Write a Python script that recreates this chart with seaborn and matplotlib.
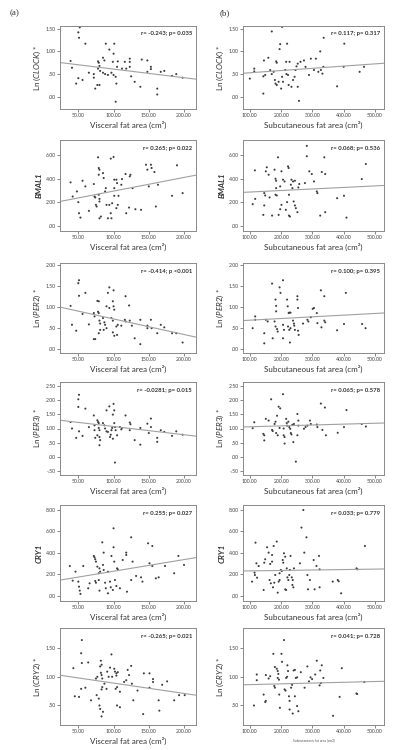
import matplotlib
matplotlib.use('Agg')
import matplotlib.pyplot as plt
import seaborn as sns
import pandas as pd

# ---- data (left: visceral, right: subcutaneous) ----
clock_vis_x = [52, 50, 51, 60, 39, 41, 47, 50, 56, 65, 72, 72, 74, 77, 80, 78, 79, 80, 78, 81, 85, 87, 89, 94, 85, 88, 92, 99, 100, 101,
               97, 100, 103, 104, 103, 106, 105, 112, 116, 123, 123, 123, 118, 125, 130, 138, 140, 148, 148, 153, 153, 162, 162, 167, 172, 183, 189, 198]
clock_vis_y = [1.53, 1.42, 1.30, 1.17, 0.79, 0.64, 0.29, 0.41, 0.37, 0.53, 0.50, 0.42, 0.18, 0.26, 0.26, 0.78, 0.75, 0.68, 0.62, 0.57, 0.86, 0.80, 1.17, 1.04, 0.53, 0.50, 0.48, 0.77, 0.95, 1.17,
               0.53, 0.48, 0.44, 0.29, -0.11, 0.78, 0.66, 0.62, 0.77, 0.84, 0.77, 0.66, 0.62, 0.45, 0.33, 0.22, 0.82, 0.80, 0.55, 0.66, 0.61, 0.18, 0.05, 0.55, 0.57, 0.46, 0.50, 0.42]
clock_sub_x = [203, 170, 197, 195, 219, 159, 145, 114, 114, 100, 143, 149, 165, 170, 176, 184, 186, 180, 182, 186, 192, 200, 203, 206, 213, 217, 222, 216, 227,
               224, 233, 238, 243, 246, 249, 253, 253, 257, 262, 273, 278, 295, 289, 305, 311, 319, 325, 327, 336, 335, 332, 143, 379, 400, 402, 451, 465]
clock_sub_y = [1.54, 1.44, 1.16, 1.05, 1.17, 0.86, 0.80, 0.62, 0.56, 0.40, 0.45, 0.48, 0.59, 0.50, 0.55, 0.78, 0.75, 0.37, 0.29, 0.26, 0.33, 0.18, 0.44, 0.33, 0.59, 0.50, 0.48, 0.77, 0.77,
               0.26, 0.22, 0.37, 0.44, 0.59, 0.67, 0.73, 0.22, -0.09, 0.77, 0.80, 0.66, 0.84, 0.48, 0.59, 0.84, 0.55, 1.00, 0.59, 1.30, 0.66, 0.51, 0.07, 0.23, 0.66, 1.17, 0.55, 0.66]

bmal1_vis_x = [39, 42, 48, 50, 51, 53, 56, 60, 65, 72, 73, 74, 75, 76, 78, 79, 80, 79, 79, 80, 80, 80, 82, 85, 86, 88, 89, 90, 92, 94, 96, 97,
               96, 100, 98, 101, 101, 101, 104, 105, 104, 106, 107, 111, 112, 117, 118, 123, 124, 122, 127, 131, 139, 146, 148, 153, 154, 150, 158, 163, 160, 183, 190, 198]
bmal1_vis_y = [3.70, 2.50, 2.93, 2.02, 1.08, 0.71, 3.84, 3.36, 1.28, 3.56, 2.50, 2.42, 1.79, 1.65, 5.83, 4.92, 4.78, 4.35, 2.65, 2.30, 2.08, 0.65, 0.80, 4.49, 4.07, 2.93, 3.21, 1.79, 0.65, 1.79, 1.08, 0.65,
               5.72, 5.86, 1.93, 2.56, 3.21, 3.93, 3.93, 3.64, 1.51, 1.79, 2.56, 3.50, 3.98, 4.41, 1.08, 4.21, 4.35, 1.56, 3.21, 1.42, 1.37, 5.20, 4.78, 5.20, 4.92, 3.36, 4.58, 3.50, 1.65, 2.56, 5.15, 2.79]
bmal1_sub_x = [109, 117, 116, 143, 146, 146, 149, 151, 154, 160, 163, 171, 179, 182, 184, 184, 182, 186, 190, 192, 197, 201, 201, 197, 206, 211, 215, 219, 222, 224, 225,
               225, 228, 231, 233, 236, 238, 244, 240, 244, 247, 252, 255, 258, 276, 282, 282, 290, 298, 305, 314, 316, 325, 330, 338, 341, 341, 379, 401, 409, 458, 471]
bmal1_sub_y = [1.85, 2.30, 4.72, 0.94, 1.74, 2.79, 2.59, 4.64, 4.98, 4.35, 2.42, 0.88, 4.78, 4.01, 3.84, 3.21, 2.65, 2.59, 5.83, 0.94, 1.42, 1.79, 4.64, 3.36, 3.93, 3.78, 1.37, 2.02, 5.06, 4.92, 2.65,
               0.88, 0.80, 3.50, 3.93, 3.21, 3.78, 3.84, 2.08, 1.74, 1.51, 1.17, 3.27, 3.56, 3.64, 6.80, 5.92, 4.64, 4.41, 3.78, 2.93, 2.79, 0.88, 4.58, 5.83, 4.41, 1.17, 2.36, 2.56, 0.71, 3.98, 5.26]

per2_vis_x = [39, 41, 47, 50, 51, 51, 56, 60, 65, 72, 73, 72, 74, 77, 79, 78, 79, 80, 81, 81, 79, 85, 87, 88, 90, 86, 90, 92, 94, 94, 97,
              99, 99, 100, 100, 101, 99, 101, 104, 106, 105, 111, 116, 117, 117, 122, 123, 126, 130, 138, 138, 148, 148, 153, 154, 162, 167, 172, 183, 189, 198]
per2_vis_y = [1.02, 0.57, 0.43, 1.56, 1.63, 1.26, 0.83, 1.33, 0.58, 0.85, 0.77, 0.23, 0.23, 1.14, 1.13, 0.88, 0.85, 0.67, 0.60, 0.45, 0.37, 0.73, 0.63, 0.57, 0.49, 0.45, 1.01, 1.33, 1.46, 0.97, 0.73,
              0.67, 1.13, 1.39, 1.01, 0.93, 0.39, 0.31, 0.53, 0.57, 0.33, 0.55, 0.69, 0.65, 1.25, 1.03, 0.67, 0.55, 0.25, 0.69, 0.11, 0.55, 0.49, 0.69, 0.49, 0.37, 0.57, 0.51, 0.37, 0.37, 0.15]
per2_sub_x = [109, 117, 117, 146, 146, 151, 157, 171, 173, 179, 182, 182, 184, 184, 187, 189, 195, 198, 206, 206, 206, 209, 219, 221, 224, 226, 230, 222, 226,
              230, 228, 238, 241, 242, 244, 252, 252, 254, 254, 256, 270, 284, 287, 295, 301, 305, 314, 316, 327, 329, 338, 338, 341, 379, 401, 407, 459, 470]
per2_sub_y = [0.49, 0.77, 0.69, 0.13, 0.37, 0.69, 0.65, 1.55, 0.25, 0.65, 0.53, 1.17, 1.02, 0.89, 0.47, 0.41, 1.46, 1.33, 0.25, 1.63, 0.57, 0.45, 1.17, 1.01, 0.85, 0.86, 0.86, 0.53, 0.45,
              0.49, 0.15, 0.67, 0.60, 0.55, 0.45, 1.25, 1.17, 0.97, 0.43, 0.33, 0.60, 0.69, 0.65, 0.75, 0.95, 0.97, 0.85, 0.61, 1.39, 0.51, 1.25, 0.67, 0.63, 0.44, 0.59, 1.33, 0.59, 0.49]

per3_vis_x = [39, 41, 47, 50, 51, 50, 51, 56, 60, 65, 72, 73, 73, 74, 77, 78, 79, 77, 79, 80, 80, 81, 80, 85, 87, 88, 90, 90, 92, 94, 95, 96,
              97, 98, 99, 100, 101, 99, 101, 102, 103, 102, 105, 109, 111, 112, 117, 123, 124, 123, 130, 138, 138, 148, 150, 153, 153, 162, 162, 167, 172, 183, 189, 198]
per3_vis_y = [1.23, 1.00, 0.67, 2.03, 2.19, 1.76, 0.90, 0.74, 1.70, 1.05, 1.46, 1.11, 0.94, 0.67, 1.29, 1.23, 1.19, 0.76, 1.02, 0.94, 0.70, 0.59, 0.41, 1.19, 1.11, 1.00, 0.90, 1.64, 0.88, 1.78, 0.70, 0.78,
              0.94, 1.02, 1.49, 1.87, 1.64, 0.64, 1.19, 1.05, 0.94, -0.20, 0.76, 1.05, 0.97, 1.02, 1.46, 1.21, 1.15, 0.94, 0.59, 0.43, 1.02, 1.17, 0.84, 1.35, 1.05, 0.67, 0.53, 0.94, 0.88, 0.74, 0.90, 0.78]
per3_sub_x = [109, 114, 143, 146, 146, 151, 160, 168, 171, 173, 179, 182, 184, 189, 187, 192, 197, 195, 206, 208, 208, 211, 211, 216, 218, 219, 223, 226,
              229, 231, 233, 239, 236, 241, 252, 255, 255, 247, 252, 273, 278, 284, 292, 295, 314, 316, 327, 332, 340, 343, 381, 401, 409, 458, 471]
per3_sub_y = [1.01, 1.22, 0.81, 0.76, 0.58, 1.34, 1.28, 2.03, 0.95, 0.91, 1.16, 1.24, 0.84, 0.76, 1.45, 1.77, 1.71, 1.02, 2.21, 1.00, 0.76, 0.70, 0.47, 1.34, 1.19, 1.10, 1.24, 1.05,
              0.99, 0.84, 0.79, 0.52, 1.13, 1.16, 1.51, 1.28, 1.10, -0.17, 0.76, 0.99, 1.05, 1.10, 1.28, 1.16, 1.14, 1.05, 1.88, 0.95, 1.74, 0.76, 0.85, 1.05, 1.65, 1.16, 1.07]

cry1_vis_x = [38, 42, 46, 50, 51, 52, 53, 57, 64, 66, 72, 73, 74, 75, 77, 74, 75, 79, 80, 81, 79, 80, 84, 85, 86, 86, 88, 89, 92, 92, 95,
              96, 97, 99, 100, 100, 101, 102, 104, 105, 106, 109, 113, 118, 118, 119, 125, 125, 127, 132, 139, 141, 149, 151, 155, 155, 160, 164, 173, 186, 192, 200]
cry1_vis_y = [2.77, 1.40, 2.24, 1.31, 0.84, 0.47, 0.16, 2.77, 0.69, 1.15, 3.71, 3.58, 3.40, 3.18, 2.71, 1.37, 1.21, 2.09, 2.55, 2.24, 1.46, 0.47, 4.98, 2.87, 2.40, 4.02, 1.21, 0.69, 2.24, 0.22, 1.31,
              0.78, 3.71, 0.53, 6.29, 4.52, 3.18, 1.46, 0.90, 2.55, 2.46, 0.69, 3.33, 4.02, 3.80, 0.37, 5.45, 1.46, 3.18, 1.84, 1.71, 1.31, 4.89, 3.02, 4.64, 2.77, 1.62, 1.71, 2.77, 2.09, 3.71, 2.87]
cry1_sub_x = [107, 115, 116, 118, 121, 123, 128, 144, 146, 149, 155, 160, 163, 165, 171, 167, 174, 171, 176, 178, 181, 186, 189, 192, 195, 195, 199, 202, 205, 207, 209, 213, 213,
              216, 218, 220, 223, 226, 228, 230, 234, 236, 237, 239, 241, 260, 265, 271, 274, 281, 284, 286, 292, 304, 307, 313, 321, 323, 323, 365, 381, 384, 392, 441, 444, 468]
cry1_sub_y = [1.31, 2.15, 1.93, 4.95, 3.02, 1.68, 2.77, 0.53, 3.08, 3.40, 4.52, 4.02, 1.46, 2.96, 3.18, 1.15, 0.78, 3.80, 4.64, 1.21, 1.93, 5.05, 0.28, 1.31, 1.46, 2.09, 2.40, 2.30, 3.33, 3.08, 3.96, 3.64, 0.59,
              0.53, 2.55, 1.71, 1.46, 1.93, 2.40, 3.71, 1.71, 1.00, 1.46, 0.78, 2.55, 3.02, 6.36, 8.00, 4.02, 5.45, 1.93, 0.59, 1.46, 3.33, 0.59, 2.77, 3.71, 2.46, 0.78, 1.31, 1.46, 1.34, 0.22, 2.55, 2.46, 4.64]

cry2_vis_x = [43, 45, 51, 54, 54, 55, 55, 60, 64, 68, 75, 77, 76, 79, 80, 81, 81, 82, 83, 82, 83, 84, 83, 84, 83, 85, 87, 90, 91, 93, 95, 97,
              98, 101, 102, 104, 103, 105, 104, 106, 105, 109, 109, 115, 118, 120, 122, 125, 126, 128, 134, 142, 143, 151, 151, 156, 156, 164, 165, 169, 176, 186, 193, 201]
cry2_vis_y = [1.15, 0.66, 0.65, 0.79, 1.41, 1.64, 1.24, 0.81, 1.25, 0.59, 0.97, 1.00, 0.68, 0.62, 0.50, 0.44, 1.18, 1.28, 1.21, 1.07, 1.03, 0.97, 0.78, 0.82, 0.31, 0.39, 0.88, 0.79, 1.09, 1.00, 1.16, 1.39,
              1.00, 1.14, 1.09, 1.06, 0.79, 0.82, 1.02, 1.08, 0.50, 0.47, 0.74, 0.91, 0.94, 1.12, 1.03, 1.19, 0.88, 0.59, 0.76, 0.35, 1.06, 1.06, 0.81, 0.96, 0.91, 0.59, 0.41, 0.86, 0.92, 0.59, 0.68, 0.68]
cry2_sub_x = [113, 122, 122, 144, 149, 151, 151, 160, 165, 175, 178, 180, 180, 186, 189, 191, 189, 193, 194, 196, 201, 203, 209, 211, 214, 216, 219, 220, 222, 225, 227,
              227, 232, 235, 237, 240, 244, 244, 247, 251, 251, 255, 263, 275, 284, 289, 294, 299, 309, 314, 325, 327, 330, 335, 323, 366, 387, 394, 441, 443, 466]
cry2_sub_y = [0.50, 1.04, 0.94, 0.69, 0.56, 0.58, 1.03, 0.97, 1.01, 1.40, 0.84, 0.81, 1.17, 1.14, 1.10, 1.05, 0.98, 0.95, 0.69, 0.46, 1.40, 1.26, 1.64, 0.78, 0.76, 0.98, 1.00, 1.20, 1.10, 0.66, 0.58,
              0.43, 0.81, 0.86, 0.36, 1.11, 1.12, 0.66, 0.98, 0.99, 0.49, 0.40, 1.08, 0.81, 1.18, 0.92, 0.99, 0.96, 1.04, 1.28, 1.11, 0.89, 1.20, 0.98, 0.85, 0.32, 0.65, 1.15, 0.71, 0.70, 0.91]

# fit lines: (intercept, slope)
fit_vis = [(0.80, -0.0019), (1.80, 0.0116), (1.08, -0.0037), (1.36, -0.0029), (1.19, 0.0109), (1.07, -0.0018)]
fit_sub = [(0.48, 0.00049), (2.75, 0.0013), (0.64, 0.0004), (1.03, 0.00031), (2.27, 0.00042), (0.85, 0.000135)]

stats_vis = ['r= -0.243; p= 0.035', 'r= 0.265; p= 0.022', 'r= -0.414; p <0.001',
             'r= -0.0281; p= 0.015', 'r= 0.255; p= 0.027', 'r= -0.265; p= 0.021']
stats_sub = ['r= 0.117; p= 0.317', 'r= 0.068; p= 0.536', 'r= 0.100; p= 0.395',
             'r= 0.065; p= 0.578', 'r= 0.033; p= 0.779', 'r= 0.041; p= 0.728']

genes = ['CLOCK', 'BMAL1', 'PER2', 'PER3', 'CRY1', 'CRY2']
logged = [True, False, True, True, False, True]
y_ticks = [[0, 0.5, 1, 1.5], [0, 2, 4, 6], [0, 0.5, 1, 1.5, 2],
           [-0.5, 0, 0.5, 1, 1.5, 2, 2.5], [0, 2, 4, 6, 8], [0.5, 1, 1.5]]
y_lims = [(-0.27, 1.56), (-0.43, 7.3), (-0.10, 2.04), (-0.64, 2.64), (-0.5, 8.47), (0.16, 1.85)]

vis_data = [(clock_vis_x, clock_vis_y), (bmal1_vis_x, bmal1_vis_y), (per2_vis_x, per2_vis_y),
            (per3_vis_x, per3_vis_y), (cry1_vis_x, cry1_vis_y), (cry2_vis_x, cry2_vis_y)]
sub_data = [(clock_sub_x, clock_sub_y), (bmal1_sub_x, bmal1_sub_y), (per2_sub_x, per2_sub_y),
            (per3_sub_x, per3_sub_y), (cry1_sub_x, cry1_sub_y), (cry2_sub_x, cry2_sub_y)]

sns.set_style("ticks")
plt.rcParams['font.family'] = ['Lato', 'DejaVu Sans']
plt.rcParams['mathtext.fontset'] = 'custom'
plt.rcParams['mathtext.it'] = 'Lato:italic'
plt.rcParams['mathtext.rm'] = 'Lato'


def spss_fmt(v):
    # SPSS style tick labels: ".50", "-.50", "1.00"
    s = f"{v:.2f}"
    if s.startswith('0.'):
        s = s[1:]
    elif s.startswith('-0.'):
        s = '-' + s[2:]
    return s


fig = plt.figure(figsize=(4.2, 7.5), dpi=100)
W, H = 420, 750
rows_px = [(26, 109), (140, 231), (263, 353), (382, 475), (505, 601), (628, 725)]
cols_px = [(60, 196), (243, 384)]
grey = '#8a8a8a'

for i in range(6):
    top, bot = rows_px[i]
    for j, (data, fits, stats, xl, xt) in enumerate([
            (vis_data, fit_vis, stats_vis, (24, 217), [50, 100, 150, 200]),
            (sub_data, fit_sub, stats_sub, (78, 529), [100, 200, 300, 400, 500])]):
        l, r = cols_px[j]
        ax = fig.add_axes([l / W, 1 - bot / H, (r - l) / W, (bot - top) / H])
        xs, ys = data[i]
        df = pd.DataFrame({'x': xs, 'y': ys})
        sns.scatterplot(data=df, x='x', y='y', ax=ax, s=2.2, color='#3c3c3c',
                        edgecolor='none', linewidth=0)
        b0, b1 = fits[i]
        ax.axline((0, b0), slope=b1, color='#a0a0a0', lw=0.8, zorder=1)
        ax.set_xlim(*xl)
        ax.set_ylim(*y_lims[i])
        ax.set_xticks(xt)
        ax.set_xticklabels([f"{v:.2f}" for v in xt])
        ax.set_yticks(y_ticks[i])
        ax.set_yticklabels([spss_fmt(v) for v in y_ticks[i]])
        ax.tick_params(labelsize=3.7, length=2, width=0.5, pad=1.2,
                       colors='#555555', labelcolor='#444444')
        for sp in ax.spines.values():
            sp.set_color(grey)
            sp.set_linewidth(0.7)
        ax.text(0.97, 0.91, stats[i], transform=ax.transAxes, ha='right', va='center',
                fontsize=4.3, fontweight='bold', color='#333333')
        g = genes[i]
        if logged[i]:
            ax.set_ylabel(r'Ln ($\mathit{' + g + r'}$) *', fontsize=5.8, color='#333333', labelpad=2)
        else:
            ax.set_ylabel(g, fontsize=5.8, color='#333333', labelpad=2,
                          fontstyle='italic', fontweight='bold')
        if j == 0:
            ax.set_xlabel('Visceral fat area (cm²)', fontsize=5.8, color='#333333', labelpad=2)
        elif i < 5:
            ax.set_xlabel('Subcutaneous fat area (cm²)', fontsize=5.8, color='#333333', labelpad=2)
        else:
            ax.set_xlabel('Subcutaneous fat area (cm2)', fontsize=2.4, color='#555555', labelpad=3)

fig.text(10 / W, 1 - 15 / H, '(a)', fontsize=6.5, family='Liberation Serif', color='#333333')
fig.text(220 / W, 1 - 15 / H, '(b)', fontsize=6.5, family='Liberation Serif', color='#333333')

fig.savefig('out.png', dpi=100)
